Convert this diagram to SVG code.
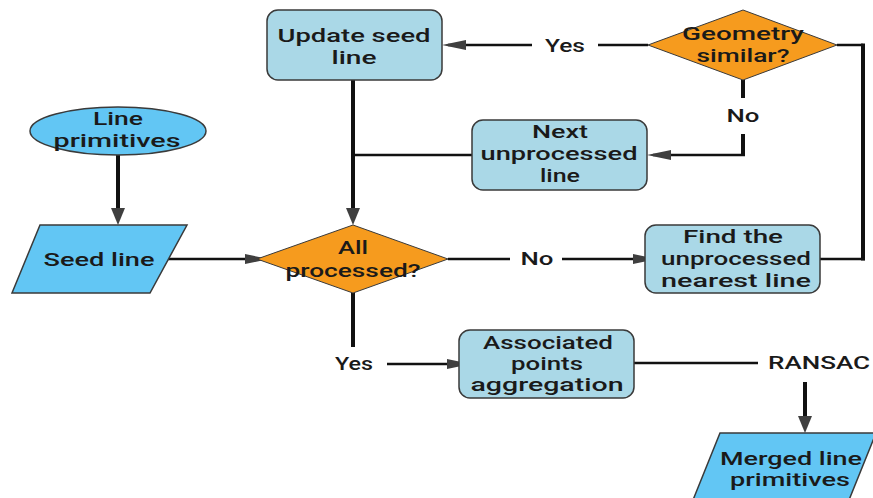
<svg xmlns="http://www.w3.org/2000/svg" width="873" height="498" viewBox="0 0 873 498">
<style>
.box{fill:#aad8e7;stroke:#3a3a3a;stroke-width:1.5}
.io{fill:#62c6f4;stroke:#3a3a3a;stroke-width:1.5}
.dec{fill:#f69b1e;stroke:#3a3a3a;stroke-width:1}
.t{font-family:Roboto,"Open Sans","Liberation Sans",sans-serif;font-size:18.5px;font-weight:500;fill:#1a1a1a;text-anchor:middle}
.h{fill:none;stroke:#111;stroke-width:2.5}
.v{fill:none;stroke:#111;stroke-width:4}
</style>
<defs>
<marker id="ah" markerUnits="userSpaceOnUse" markerWidth="24" markerHeight="10" refX="18" refY="5" orient="auto">
<path d="M0,0 L24,5 L0,10 z" fill="#3f3f3f"/>
</marker>
<marker id="av" markerUnits="userSpaceOnUse" markerWidth="17" markerHeight="14" refX="10" refY="7" orient="auto">
<path d="M0,0 L17,7 L0,14 z" fill="#3f3f3f"/>
</marker>
</defs>
<g id="connectors">
<path class="h" d="M648 45 H598"/>
<path class="h" d="M532 45 H448" marker-end="url(#ah)"/>
<path class="v" d="M743 80 V98"/>
<path class="v" d="M743 134 V155"/>
<path class="h" d="M745 155 H653" marker-end="url(#ah)"/>
<path class="h" d="M837 45 H863"/>
<path class="v" d="M863 43.5 V260.5"/>
<path class="h" d="M865 259 H820"/>
<path class="h" d="M472 155 H353"/>
<path class="v" d="M353 80 V218" marker-end="url(#av)"/>
<path class="v" d="M118 155 V218" marker-end="url(#av)"/>
<path class="h" d="M168 259 H263" marker-end="url(#ah)"/>
<path class="h" d="M448 259 H510"/>
<path class="h" d="M562 259 H651" marker-end="url(#ah)"/>
<path class="v" d="M353 293 V347"/>
<path class="h" d="M387 364 H465" marker-end="url(#ah)"/>
<path class="h" d="M634 363 H758"/>
<path class="v" d="M805 382 V426" marker-end="url(#av)"/>
<text class="t" x="565" y="52" textLength="40" lengthAdjust="spacingAndGlyphs">Yes</text>
<text class="t" x="743" y="122" textLength="33" lengthAdjust="spacingAndGlyphs">No</text>
<text class="t" x="537" y="265" textLength="33" lengthAdjust="spacingAndGlyphs">No</text>
<text class="t" x="354" y="370" textLength="38" lengthAdjust="spacingAndGlyphs">Yes</text>
<text class="t" x="819" y="369" textLength="102" lengthAdjust="spacingAndGlyphs">RANSAC</text>
</g>
<g id="update-seed-line">
<rect class="box" x="267" y="10" width="175" height="70" rx="11"/>
<text class="t" x="354" y="42" textLength="153" lengthAdjust="spacingAndGlyphs">Update seed</text>
<text class="t" x="354" y="64" textLength="45" lengthAdjust="spacingAndGlyphs">line</text>
</g>
<g id="geometry-similar">
<polygon class="dec" points="648,45 743,10 837,45 743,80"/>
<text class="t" x="743" y="40" textLength="122" lengthAdjust="spacingAndGlyphs">Geometry</text>
<text class="t" x="743" y="62" textLength="93" lengthAdjust="spacingAndGlyphs">similar?</text>
</g>
<g id="next-unprocessed-line">
<rect class="box" x="472" y="120" width="175" height="70" rx="11"/>
<text class="t" x="560" y="138" textLength="56" lengthAdjust="spacingAndGlyphs">Next</text>
<text class="t" x="559" y="160" textLength="157" lengthAdjust="spacingAndGlyphs">unprocessed</text>
<text class="t" x="560" y="182" textLength="40" lengthAdjust="spacingAndGlyphs">line</text>
</g>
<g id="line-primitives">
<ellipse class="io" cx="118" cy="131" rx="88" ry="24"/>
<text class="t" x="118" y="125" textLength="50" lengthAdjust="spacingAndGlyphs">Line</text>
<text class="t" x="117" y="147" textLength="127" lengthAdjust="spacingAndGlyphs">primitives</text>
</g>
<g id="seed-line">
<polygon class="io" points="40,225 187,225 150,293 12,293"/>
<text class="t" x="99" y="266" textLength="111" lengthAdjust="spacingAndGlyphs">Seed line</text>
</g>
<g id="all-processed">
<polygon class="dec" points="257,259 353,225 448,259 353,293"/>
<text class="t" x="353" y="254" textLength="30" lengthAdjust="spacingAndGlyphs">All</text>
<text class="t" x="353" y="277" textLength="135" lengthAdjust="spacingAndGlyphs">processed?</text>
</g>
<g id="find-nearest-line">
<rect class="box" x="645" y="225" width="175" height="68" rx="11"/>
<text class="t" x="733" y="243" textLength="100" lengthAdjust="spacingAndGlyphs">Find the</text>
<text class="t" x="736" y="265" textLength="150" lengthAdjust="spacingAndGlyphs">unprocessed</text>
<text class="t" x="736" y="287" textLength="150" lengthAdjust="spacingAndGlyphs">nearest line</text>
</g>
<g id="associated-points-aggregation">
<rect class="box" x="459" y="330" width="175" height="68" rx="11"/>
<text class="t" x="548" y="349" textLength="130" lengthAdjust="spacingAndGlyphs">Associated</text>
<text class="t" x="547" y="370" textLength="72" lengthAdjust="spacingAndGlyphs">points</text>
<text class="t" x="547" y="391" textLength="153" lengthAdjust="spacingAndGlyphs">aggregation</text>
</g>
<g id="merged-line-primitives">
<polygon class="io" points="720,433 876,433 849,500 693,500"/>
<text class="t" x="791" y="465" textLength="142" lengthAdjust="spacingAndGlyphs">Merged line</text>
<text class="t" x="790" y="486" textLength="120" lengthAdjust="spacingAndGlyphs">primitives</text>
</g>
</svg>
